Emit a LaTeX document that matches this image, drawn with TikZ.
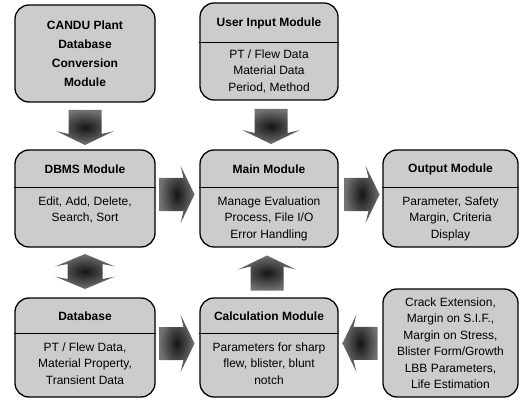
\documentclass[tikz,border=0pt]{standalone}
\usepackage{fontspec}
\setmainfont{Liberation Sans}
\usetikzlibrary{calc}
\tikzset{
  box/.style={draw=black, line width=1.3pt, rounded corners=14pt, fill=black!20, inner sep=0pt},
  ttl/.style={font=\fontsize{12}{19}\selectfont\bfseries, align=center, inner sep=0pt},
  txt/.style={font=\fontsize{12}{16.5}\selectfont, align=center, inner sep=0pt},
  divider/.style={line width=1.1pt},
  barrow/.pic={\shade[inner color=black!92, outer color=black!55]
     (-17,-16.5) -- (7,-16.5) -- (4,-29) -- (18,0) -- (4,29) -- (7,16.5) -- (-17,16.5) -- cycle;},
  dbarrow/.pic={\shade[inner color=black!92, outer color=black!55]
     (-7.5,-17.5) -- (7.5,-17.5) -- (5,-30) -- (17.5,0) -- (5,30) -- (7.5,17.5)
     -- (-7.5,17.5) -- (-5,30) -- (-17.5,0) -- (-5,-30) -- cycle;},
}
\begin{document}
\begin{tikzpicture}[x=1pt,y=-1pt]
\useasboundingbox (0,0) rectangle (521,403);
% boxes
\node[box, minimum width=140pt, minimum height=97pt] (candu) at (85,53.5) {};
\node[box, minimum width=138pt, minimum height=97pt] (user) at (269,51.5) {};
\node[box, minimum width=140pt, minimum height=97pt] (dbms) at (85,198.5) {};
\node[box, minimum width=138pt, minimum height=97pt] (main) at (269,198.5) {};
\node[box, minimum width=135pt, minimum height=97pt] (output) at (450.5,198.5) {};
\node[box, minimum width=140pt, minimum height=99pt] (db) at (85,347.5) {};
\node[box, minimum width=138pt, minimum height=99pt] (calc) at (269,347.5) {};
\node[box, minimum width=135pt, minimum height=108pt] (result) at (450.5,343) {};
% dividers
\foreach \b/\d in {user/40,dbms/38,main/38,output/38,db/36,calc/36}{
  \draw[divider] ($(\b.north west)+(0,\d)$) -- ($(\b.north east)+(0,\d)$);
}
% texts
\node[ttl] (candut) at (candu.center) {CANDU Plant\\Database\\Conversion\\Module};
\node[ttl] (usert) at ($(user.north)+(0,21)$) {User Input Module};
\node[txt, anchor=north] (userb) at ($(user.north)+(0,47)$) {PT / Flew Data\\Material Data\\Period, Method};
\node[ttl] (dbmst) at ($(dbms.north)+(0,20)$) {DBMS Module};
\node[txt, anchor=north] (dbmsb) at ($(dbms.north)+(0,47)$) {Edit, Add, Delete,\\Search, Sort};
\node[ttl] (maint) at ($(main.north)+(0,20)$) {Main Module};
\node[txt, anchor=north] (mainb) at ($(main.north)+(0,47)$) {Manage Evaluation\\Process, File I/O\\Error Handling};
\node[ttl] (outputt) at ($(output.north)+(0,20)$) {Output Module};
\node[txt, anchor=north] (outputb) at ($(output.north)+(0,47)$) {Parameter, Safety\\Margin, Criteria\\Display};
\node[ttl] (dbt) at ($(db.north)+(0,19)$) {Database};
\node[txt, anchor=north] (dbb) at ($(db.north)+(0,45)$) {PT / Flew Data,\\Material Property,\\Transient Data};
\node[ttl] (calct) at ($(calc.north)+(0,19)$) {Calculation Module};
\node[txt, anchor=north] (calcb) at ($(calc.north)+(0,45)$) {Parameters for sharp\\flew, blister, blunt\\notch};
\node[txt] (resultt) at (result.center) {Crack Extension,\\Margin on S.I.F.,\\Margin on Stress,\\Blister Form/Growth\\LBB Parameters,\\Life Estimation};
% block arrows
\coordinate (a1) at ($(candu.south)!0.5!(dbms.north)+(0,1)$);
\coordinate (a2) at ($(user.south)!0.5!(main.north)+(2,1)$);
\coordinate (a3) at ($(dbms.east)!0.5!(main.west)+(-1,-4)$);
\coordinate (a4) at ($(main.east)!0.5!(output.west)+(1,-4)$);
\coordinate (a5) at ($(dbms.south)!0.5!(db.north)+(0,-1)$);
\coordinate (a6) at ($(calc.north)!0.5!(main.south)+(-2,1)$);
\coordinate (a7) at ($(db.east)!0.5!(calc.west)+(-1,-4)$);
\coordinate (a8) at ($(result.west)!0.5!(calc.east)+(0,-2)$);
\pic[rotate=-90] at (a1) {barrow};
\pic[rotate=-90] at (a2) {barrow};
\pic at (a3) {barrow};
\pic at (a4) {barrow};
\pic[rotate=90] at (a5) {dbarrow};
\pic[rotate=90] at (a6) {barrow};
\pic at (a7) {barrow};
\pic[rotate=180] at (a8) {barrow};
\end{tikzpicture}
\end{document}
